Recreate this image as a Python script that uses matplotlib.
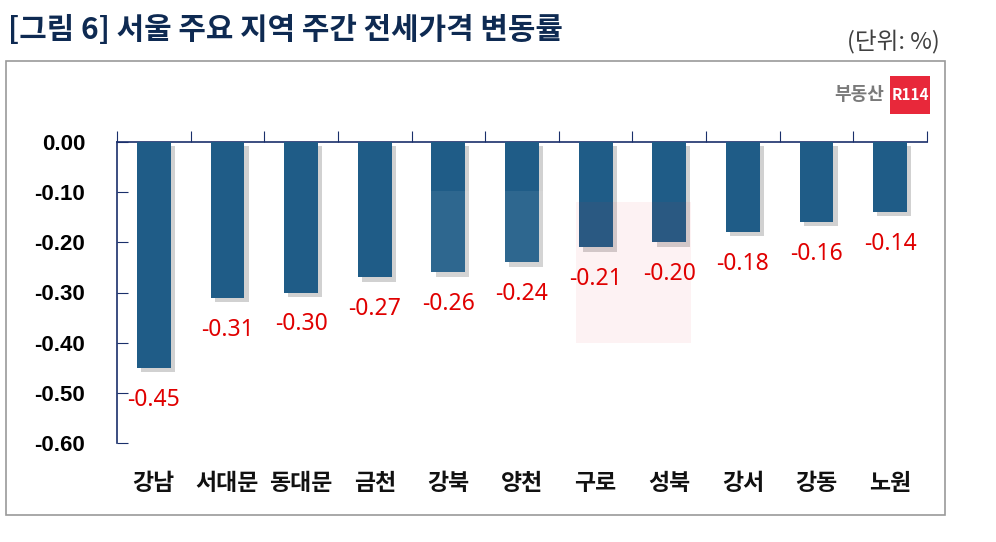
import matplotlib
matplotlib.use("Agg")
import matplotlib.pyplot as plt
import matplotlib.patheffects as pe
from matplotlib.patches import Rectangle

plt.rcParams['font.family'] = ['Noto Sans CJK KR', 'DejaVu Sans']

regions = ["강남", "서대문", "동대문", "금천", "강북", "양천", "구로", "성북", "강서", "강동", "노원"]
changes = [-0.45, -0.31, -0.30, -0.27, -0.26, -0.24, -0.21, -0.20, -0.18, -0.16, -0.14]
yticks = [0.0, -0.1, -0.2, -0.3, -0.4, -0.5, -0.6]

W, H = 996, 542
fig = plt.figure(figsize=(W / 100, H / 100), dpi=100)
ax = fig.add_axes([117 / W, 1 - 443 / H, (927 - 117) / W, (443 - 142) / H])

x = list(range(len(regions)))
shadow = [pe.SimplePatchShadow(offset=(3, -3), shadow_rgbFace="#9a9a9a", alpha=0.45), pe.Normal()]
bars = ax.bar(x, changes, width=0.46, color="#1f5c87", zorder=3)
for b in bars:
    b.set_path_effects(shadow)

for xi, v in zip(x, changes):
    ax.annotate("{:.2f}".format(v), (xi, v), xytext=(0, -32), textcoords="offset pixels",
                ha="center", va="center", color="#e00000", fontsize=16.5, family=["Noto Sans"],
                zorder=6)

ax.set_xlim(-0.5, len(regions) - 0.5)
ax.set_ylim(-0.6, 0)

# spines
navy = "#1a2f6b"
for s in ["right", "bottom"]:
    ax.spines[s].set_visible(False)
ax.spines["left"].set_color(navy)
ax.spines["top"].set_color(navy)
ax.spines["left"].set_linewidth(1.2)
ax.spines["top"].set_linewidth(1.2)

ax.set_yticks(yticks)
ax.set_yticklabels(["{:.2f}".format(t) for t in yticks], fontsize=16, fontweight="bold",
                   family=["Liberation Sans"])
ax.tick_params(axis="y", direction="in", length=8, color=navy, pad=23)

ax.set_xticks([i - 0.5 for i in range(len(regions) + 1)])
ax.xaxis.tick_top()
ax.tick_params(axis="x", direction="out", length=8, color=navy, labeltop=False)
for xi, name in zip(x, regions):
    ax.text(xi, -0.68, name, ha="center", va="center", fontsize=16.5, fontweight="bold",
            color="#111111")

# watermark (faint)
ax.add_patch(Rectangle((3.35, -0.395), 2.39, 0.297, facecolor="white", alpha=0.07,
                       edgecolor="none", zorder=4))
ax.add_patch(Rectangle((5.74, -0.40), 1.56, 0.28, facecolor="#e8303a", alpha=0.06,
                       edgecolor="none", zorder=4))

# outer frame
fig.add_artist(Rectangle((6 / W, 1 - 515 / H), (945 - 6) / W, (515 - 61) / H,
                         transform=fig.transFigure, fill=False, edgecolor="#9a9a9a", linewidth=1.2))

fig.text(8 / W, 1 - 30 / H, "[그림 6] 서울 주요 지역 주간 전세가격 변동률", fontsize=21.5,
         fontweight="bold", color="#0e2a52", va="center", ha="left")
fig.text(940 / W, 1 - 42 / H, "(단위: %)", fontsize=17, color="#404040", va="center", ha="right")

# logo
fig.text(884 / W, 1 - 95 / H, "부동산", fontsize=13, fontweight="bold", color="#7a7a7a",
         va="center", ha="right")
fig.add_artist(Rectangle((890 / W, 1 - 114 / H), 40 / W, 38 / H, transform=fig.transFigure,
                         facecolor="#e8283a", edgecolor="none"))
fig.text(910 / W, 1 - 95 / H, "R114", fontsize=11, fontweight="bold", color="white",
         va="center", ha="center")

fig.savefig("out.png", dpi=100)
